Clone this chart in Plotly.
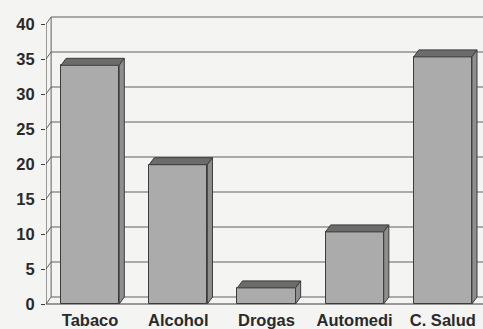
import plotly.graph_objects as go

categories = ["Tabaco", "Alcohol", "Drogas", "Automedi", "C. Salud"]
values = [34.1, 19.9, 2.3, 10.3, 35.3]
tick_vals = [0, 5, 10, 15, 20, 25, 30, 35, 40]
tick_text = ["0", "5", "10", "15", "20", "25", "30", "35", "40"]

# 3D oblique depth (data units)
DX = 0.058
DY = 1.0
BW = 0.66
XL = -0.5
XR = 4.7

FACE = "#ababab"
TOP = "#6c6c6c"
SIDE = "#8e8e8e"
EDGE = "#3c3c3c"
GRID = "#616161"
BG = "#f4f4f2"
TXT = "#2a2a2a"

xs = list(range(len(categories)))

fig = go.Figure()

# front faces
fig.add_trace(go.Bar(
    x=xs, y=values, width=BW,
    marker=dict(color=FACE, line=dict(color=EDGE, width=1)),
    hoverinfo="skip", showlegend=False,
))

# top and side faces
for i, v in zip(xs, values):
    x0, x1 = i - BW / 2, i + BW / 2
    fig.add_trace(go.Scatter(
        x=[x0, x1, x1 + DX, x0 + DX, x0], y=[v, v, v + DY, v + DY, v],
        fill="toself", fillcolor=TOP, mode="lines",
        line=dict(color=EDGE, width=1), hoverinfo="skip", showlegend=False,
    ))
    fig.add_trace(go.Scatter(
        x=[x1, x1 + DX, x1 + DX, x1, x1], y=[0, DY, v + DY, v, 0],
        fill="toself", fillcolor=SIDE, mode="lines",
        line=dict(color=EDGE, width=1), hoverinfo="skip", showlegend=False,
    ))

shapes = []
# back wall gridlines + side wall diagonals
for t in tick_vals:
    shapes.append(dict(type="line", xref="x", yref="y", layer="below",
                       x0=XL + DX, y0=t + DY, x1=XR, y1=t + DY,
                       line=dict(color=GRID, width=1)))
    shapes.append(dict(type="line", xref="x", yref="y", layer="below",
                       x0=XL, y0=t, x1=XL + DX, y1=t + DY,
                       line=dict(color=GRID, width=1)))
# back wall left edge
shapes.append(dict(type="line", xref="x", yref="y", layer="below",
                   x0=XL + DX, y0=DY, x1=XL + DX, y1=tick_vals[-1] + DY,
                   line=dict(color=GRID, width=1)))
# front axis line
shapes.append(dict(type="line", xref="x", yref="y", layer="below",
                   x0=XL, y0=0, x1=XL, y1=tick_vals[-1],
                   line=dict(color=EDGE, width=1)))
# floor front edge
shapes.append(dict(type="line", xref="x", yref="y", layer="below",
                   x0=XL, y0=0, x1=XR, y1=0,
                   line=dict(color=EDGE, width=1)))

fig.update_layout(
    width=483, height=329,
    margin=dict(l=46, r=0, t=8, b=21),
    paper_bgcolor=BG, plot_bgcolor=BG,
    shapes=shapes,
    bargap=0,
    font=dict(family="Liberation Sans, Arial, sans-serif", color=TXT),
    xaxis=dict(
        range=[XL, 4.456], tickvals=xs, ticktext=categories,
        showgrid=False, zeroline=False, showline=False, ticks="",
        tickfont=dict(size=16.5, weight="bold"),
        ticklabelstandoff=0,
        fixedrange=True,
    ),
    yaxis=dict(
        range=[-0.571, 42.286], tickvals=tick_vals, ticktext=tick_text,
        showgrid=False, zeroline=False, showline=False,
        ticks="outside", ticklen=4, tickcolor=EDGE,
        tickfont=dict(size=16.5, weight="bold"),
        ticklabelstandoff=3,
        fixedrange=True,
    ),
)

fig.write_html("out.html")
